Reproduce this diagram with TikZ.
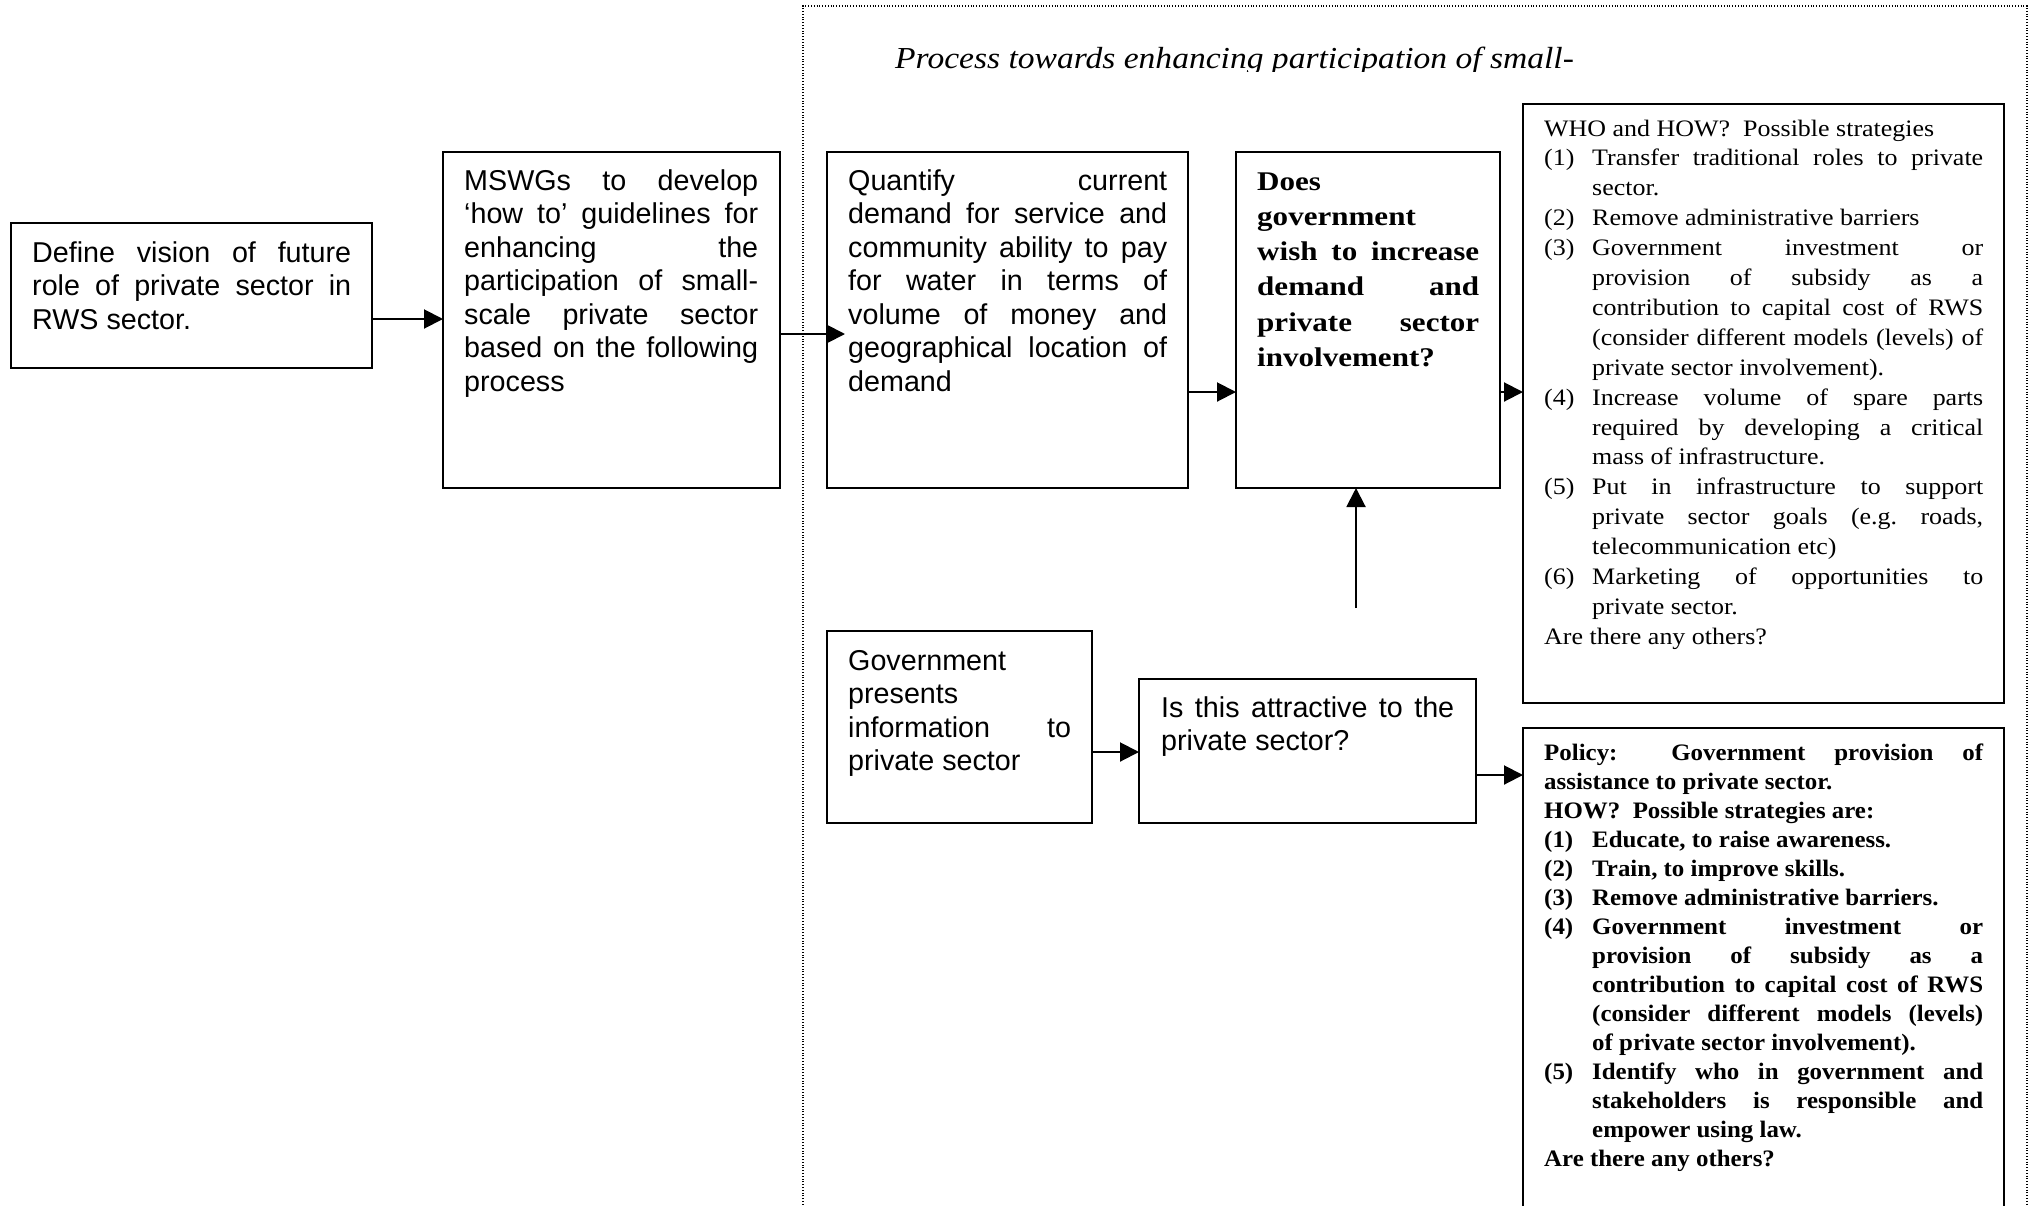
\documentclass[tikz,border=0pt]{standalone}
\usepackage{fontspec}
\usetikzlibrary{arrows.meta}
\newfontfamily\arialfont{Liberation Sans}
\newfontfamily\bookfont[FakeStretch=1.1]{Liberation Serif}
\newfontfamily\bookbfont[FakeStretch=1.055]{Liberation Serif}
\newfontfamily\askfont[FakeStretch=1.15]{Liberation Serif}
\newcommand{\itm}[2]{\par\hangindent=48pt\hangafter=1\noindent\makebox[48pt][l]{#1}#2\par}

\begin{document}
\begin{tikzpicture}[x=1pt,y=-1pt]
    \tikzstyle{blk}=[draw, line width=2pt, anchor=north west, inner sep=0pt, outer sep=0pt]
    \tikzstyle{marr}=[line width=2pt, -{Triangle[length=19pt,width=19pt]}]
    \tikzstyle{sanstxt}=[anchor=base west, inner sep=0pt, align=justify, font={\arialfont\fontsize{28.7}{33.5}\selectfont}]
    \tikzstyle{booktxt}=[anchor=base west, inner sep=0pt, align=justify, font={\bookfont\fontsize{23.6}{29.9}\selectfont}]
    \tikzstyle{boldtxt}=[anchor=base west, inner sep=0pt, align=justify, font={\bookbfont\bfseries\fontsize{23.6}{29}\selectfont}]
    \tikzstyle{asktxt}=[anchor=base west, inner sep=0pt, align=justify, font={\askfont\bfseries\fontsize{27}{35.3}\selectfont}]

    \useasboundingbox (0,0) rectangle (2035,1205);

    % dotted frame round the process
    \draw[black, line width=1.4pt, dash pattern=on 1pt off 1.8pt] (803,1300) -- (803,6) -- (2027,6) -- (2027,1300);
    \begin{scope}
        \clip (803,0) rectangle (2027,71);
        \node[anchor=base west, inner sep=0pt, font={\bookfont\itshape\fontsize{30.5}{36}\selectfont}] (title) at (895,68) {Process towards enhancing participation of small-};
    \end{scope}

    % boxes
    \node[blk, minimum width=361pt, minimum height=145pt] (vision) at (11,223) {};
    \node[blk, minimum width=337pt, minimum height=336pt] (mswg) at (443,152) {};
    \node[blk, minimum width=361pt, minimum height=336pt] (quant) at (827,152) {};
    \node[blk, minimum width=264pt, minimum height=336pt] (govwish) at (1236,152) {};
    \node[blk, minimum width=481pt, minimum height=599pt] (whohow) at (1523,104) {};
    \node[blk, minimum width=265pt, minimum height=192pt] (present) at (827,631) {};
    \node[blk, minimum width=337pt, minimum height=144pt] (attract) at (1139,679) {};
    \node[blk, minimum width=481pt, minimum height=600pt] (policy) at (1523,728) {};

    % texts
    \node[sanstxt, text width=319pt] (visiontxt) at ([xshift=21pt,yshift=-39pt]vision.north west)
        {Define vision of future\linebreak role of private sector in\linebreak RWS sector.};
    \node[sanstxt, text width=294pt] (mswgtxt) at ([xshift=21pt,yshift=-38pt]mswg.north west)
        {MSWGs to develop\linebreak ‘how to’ guidelines for\linebreak enhancing the\linebreak participation of small-\linebreak scale private sector\linebreak based on the following\linebreak process};
    \node[sanstxt, text width=319pt] (quanttxt) at ([xshift=21pt,yshift=-38pt]quant.north west)
        {Quantify current\linebreak demand for service and\linebreak community ability to pay\linebreak for water in terms of\linebreak volume of money and\linebreak geographical location of\linebreak demand};
    \node[asktxt, text width=222pt] (govwishtxt) at ([xshift=21pt,yshift=-38pt]govwish.north west)
        {Does\linebreak government\linebreak wish to increase\linebreak demand and\linebreak private sector\linebreak involvement?};
    \node[sanstxt, text width=223pt] (presenttxt) at ([xshift=21pt,yshift=-39pt]present.north west)
        {Government\linebreak presents\linebreak information to\linebreak private sector};
    \node[sanstxt, text width=293pt] (attracttxt) at ([xshift=22pt,yshift=-38pt]attract.north west)
        {Is this attractive to the\linebreak private sector?};
    \node[booktxt, text width=439pt] (whohowtxt) at ([xshift=21pt,yshift=-32pt]whohow.north west) {%
        \noindent WHO and HOW?\ \ Possible strategies\par
        \itm{(1)}{Transfer traditional roles to private\linebreak sector.}
        \itm{(2)}{Remove administrative barriers}
        \itm{(3)}{Government investment or\linebreak provision of subsidy as a\linebreak contribution to capital cost of RWS\linebreak (consider different models (levels) of\linebreak private sector involvement).}
        \itm{(4)}{Increase volume of spare parts\linebreak required by developing a critical\linebreak mass of infrastructure.}
        \itm{(5)}{Put in infrastructure to support\linebreak private sector goals (e.g.\ roads,\linebreak telecommunication etc)}
        \itm{(6)}{Marketing of opportunities to\linebreak private sector.}
        \noindent Are there any others?};
    \node[boldtxt, text width=439pt] (policytxt) at ([xshift=21pt,yshift=-32pt]policy.north west) {%
        \noindent Policy: Government provision of\linebreak assistance to private sector.\par
        \noindent HOW?\ \ Possible strategies are:\par
        \itm{(1)}{Educate, to raise awareness.}
        \itm{(2)}{Train, to improve skills.}
        \itm{(3)}{Remove administrative barriers.}
        \itm{(4)}{Government investment or\linebreak provision of subsidy as a\linebreak contribution to capital cost of RWS\linebreak (consider different models (levels)\linebreak of private sector involvement).}
        \itm{(5)}{Identify who in government and\linebreak stakeholders is responsible and\linebreak empower using law.}
        \noindent Are there any others?};

    % arrows
    \coordinate (a1) at ([yshift=-23.5pt]vision.east);
    \draw[marr] (a1) -- (a1 -| mswg.west);
    \coordinate (a2) at ([yshift=-14pt]mswg.east);
    \draw[marr] (a2) -- ([xshift=18pt]a2 -| quant.west);
    \coordinate (a3) at ([yshift=-72pt]quant.east);
    \draw[marr] (a3) -- (a3 -| govwish.west);
    \coordinate (a4) at ([yshift=-72pt]govwish.east);
    \draw[marr] (a4) -- (a4 -| whohow.west);
    \coordinate (a5) at ([yshift=-25pt]present.east);
    \draw[marr] (a5) -- (a5 -| attract.west);
    \coordinate (a6) at ([yshift=-24pt]attract.east);
    \draw[marr] (a6) -- (a6 -| policy.west);
    \coordinate (upstart) at (1356,608);
    \draw[marr] (upstart) -- (upstart |- govwish.south);
\end{tikzpicture}
\end{document}
